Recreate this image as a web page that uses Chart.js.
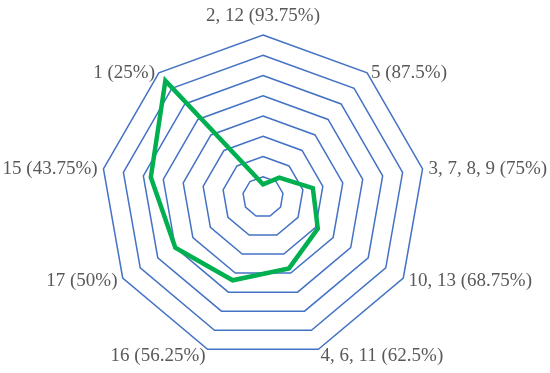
<!DOCTYPE html>
<html>
<head>
<meta charset="utf-8">
<script src="https://cdn.jsdelivr.net/npm/chart.js@4"></script>
<style>
html,body{margin:0;padding:0;background:#fff;}
#wrap{width:550px;height:373px;}
</style>
</head>
<body>
<div id="wrap"><canvas id="c"></canvas></div>
<script>
const categories = ["2, 12 (93.75%)", "5 (87.5%)", "3, 7, 8, 9 (75%)", "10, 13 (68.75%)", "4, 6, 11 (62.5%)", "16 (56.25%)", "17 (50%)", "15 (43.75%)", "1 (25%)"];
const seriesValues = [6.25, 12.5, 25, 31.25, 37.5, 43.75, 50, 56.25, 75];
const ringTicks = [0, 10, 20, 30, 40, 50, 60, 70, 80];

const LABEL_SIZE = 19;
const LABEL_FAMILY = 'Liberation Serif';

// Place the radar like the reference and set label anchors Excel-style.
const radarPlace = {
  id: 'radarPlace',
  afterLayout(chart) {
    const s = chart.scales.r;
    s.xCenter = 263;
    s.yCenter = 197;
    s.drawingArea = 162;
    const ctx = chart.ctx;
    ctx.save();
    ctx.font = LABEL_SIZE + 'px "' + LABEL_FAMILY + '"';
    const h = LABEL_SIZE * 1.2;
    const n = s._pointLabels.length;
    s._pointLabelItems = s._pointLabels.map((lbl, i) => {
      const p = s.getPointPosition(i, s.drawingArea);
      const a = i * 2 * Math.PI / n;
      const sin = Math.sin(a), cos = Math.cos(a);
      const w = ctx.measureText(lbl).width;
      let x, cy, align;
      if (Math.abs(sin) < 1e-6) {
        align = 'center';
        x = p.x;
        cy = cos > 0 ? p.y - 19 : p.y + 19;
      } else {
        align = sin > 0 ? 'left' : 'right';
        x = p.x + 6 * sin;
        cy = p.y + 7 * Math.max(0, -cos);
      }
      const top = cy - h / 2;
      const left = align === 'left' ? x : (align === 'right' ? x - w : x - w / 2);
      return { visible: true, x: x, y: top, textAlign: align, left: left, top: top, right: left + w, bottom: top + h };
    });
    ctx.restore();
  }
};

new Chart(document.getElementById('c'), {
  type: 'radar',
  data: {
    labels: categories,
    datasets: [{
      data: seriesValues,
      borderColor: '#00B050',
      borderWidth: 4.5,
      fill: false,
      pointRadius: 0,
      pointHoverRadius: 0,
      tension: 0,
      clip: false
    }]
  },
  options: {
    responsive: true,
    maintainAspectRatio: false,
    animation: false,
    plugins: { legend: { display: false }, tooltip: { enabled: false } },
    scales: {
      r: {
        min: ringTicks[0],
        max: ringTicks[ringTicks.length - 1],
        ticks: { display: false, stepSize: 10 },
        angleLines: { display: false },
        grid: { color: '#4472C4', lineWidth: 1.5 },
        pointLabels: {
          font: { family: LABEL_FAMILY, size: LABEL_SIZE },
          color: '#595959',
          padding: 5
        }
      }
    }
  },
  plugins: [radarPlace]
});
</script>
</body>
</html>
